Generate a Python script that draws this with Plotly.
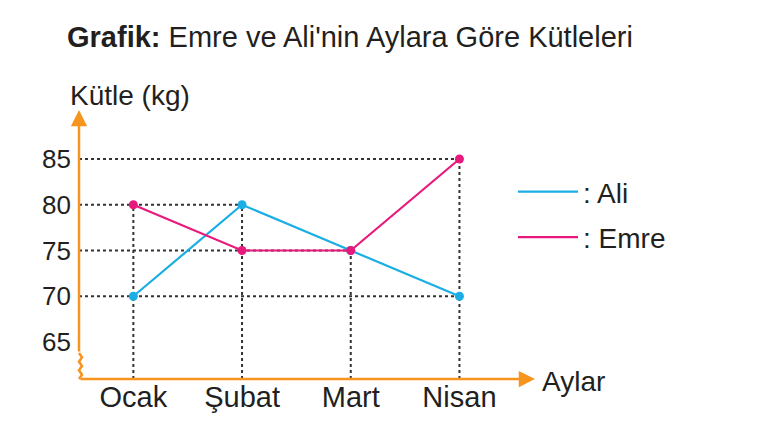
import plotly.graph_objects as go

months = ["Ocak", "Şubat", "Mart", "Nisan"]
ali = [70, 80, 75, 70]
emre = [80, 75, 75, 85]
y_ticks = [65, 70, 75, 80, 85]

title_bold = "Grafik:"
title_rest = " Emre ve Ali'nin Aylara Göre Kütleleri"
y_title = "Kütle (kg)"
x_title = "Aylar"

ORANGE = "#F7941D"
BLUE = "#1AAEE5"
PINK = "#E8197D"
DOT = "#333333"
TXT = "#231F20"
FONT = "Liberation Sans, Arial, sans-serif"

W, H = 763, 432
L, R, T, B = 74, 228, 110, 48
plot_w = W - L - R
plot_h = H - T - B
px_x = 108.7
px_y = 9.15
x_axis_pos = -0.5
x_min = x_axis_pos - 5 / px_x
x_max = x_min + plot_w / px_x
y_axis_val = 65 - 37 / px_y
y_min = y_axis_val - 5 / px_y
y_max = y_min + plot_h / px_y

idx = list(range(len(months)))
fig = go.Figure()

# dotted guide lines derived from data
points = list(zip(idx, ali)) + list(zip(idx, emre))
for v in sorted(set(ali + emre)):
    xr = max(i for i, val in points if val == v)
    fig.add_trace(go.Scatter(x=[x_axis_pos, xr], y=[v, v], mode="lines",
                             line=dict(color=DOT, width=2, dash="dot"),
                             showlegend=False, hoverinfo="skip"))
for i in idx:
    top = max(ali[i], emre[i])
    fig.add_trace(go.Scatter(x=[i, i], y=[y_axis_val, top], mode="lines",
                             line=dict(color=DOT, width=2, dash="dot"),
                             showlegend=False, hoverinfo="skip"))

fig.add_trace(go.Scatter(x=idx, y=ali, mode="lines+markers",
                         line=dict(color=BLUE, width=2.2),
                         marker=dict(color=BLUE, size=9),
                         showlegend=False, cliponaxis=False))
fig.add_trace(go.Scatter(x=idx, y=emre, mode="lines+markers",
                         line=dict(color=PINK, width=2.2),
                         marker=dict(color=PINK, size=9),
                         showlegend=False, cliponaxis=False))
# legend entries
fig.add_trace(go.Scatter(x=[None], y=[None], mode="lines", name=": Ali",
                         line=dict(color=BLUE, width=2.2), legendgroup="a"))
fig.add_trace(go.Scatter(x=[None], y=[None], mode="lines", name=": Emre",
                         line=dict(color=PINK, width=2.2), legendgroup="e"))

# axis: zigzag break + arrows
zz_top = y_axis_val + 26 / px_y
a = 3 / px_x
steps = 6
path = f"M {x_axis_pos} {zz_top}"
for k in range(1, steps + 1):
    yy = zz_top - (zz_top - y_axis_val) * k / steps
    xx = x_axis_pos + (a if k % 2 == 1 else 0)
    if k == steps:
        xx = x_axis_pos
    path += f" L {xx} {yy}"
fig.add_shape(type="path", path=path, xref="x", yref="y",
              line=dict(color=ORANGE, width=2.5))

fig.add_annotation(x=x_axis_pos, y=y_axis_val + (379 - 110) / px_y, xref="x", yref="y",
                   ax=x_axis_pos, ay=zz_top, axref="x", ayref="y", text="",
                   showarrow=True, arrowhead=2, arrowsize=1.3, arrowwidth=2.5,
                   arrowcolor=ORANGE, standoff=0)
fig.add_annotation(x=x_axis_pos + (535 - 79) / px_x, y=y_axis_val, xref="x", yref="y",
                   ax=x_axis_pos, ay=y_axis_val, axref="x", ayref="y", text="",
                   showarrow=True, arrowhead=2, arrowsize=1.3, arrowwidth=2.5,
                   arrowcolor=ORANGE, standoff=0)

fig.add_annotation(x=(68 - L) / plot_w, y=(H - B - 95) / plot_h, xref="paper", yref="paper",
                   text=y_title, showarrow=False, xanchor="left", yanchor="middle",
                   font=dict(size=28, color=TXT, family=FONT))
fig.add_annotation(x=(540 - L) / plot_w, y=(H - B - 381) / plot_h, xref="paper", yref="paper",
                   text=x_title, showarrow=False, xanchor="left", yanchor="middle",
                   font=dict(size=28, color=TXT, family=FONT))

fig.update_layout(
    width=W, height=H,
    margin=dict(l=L, r=R, t=T, b=B),
    paper_bgcolor="white", plot_bgcolor="white",
    font=dict(family=FONT, color=TXT),
    title=dict(text=f"<b>{title_bold}</b>{title_rest}", x=67 / W, xanchor="left",
               xref="container", y=1 - 37 / H, yanchor="middle", yref="container",
               font=dict(size=29, color=TXT, family=FONT)),
    xaxis=dict(range=[x_min, x_max], tickvals=idx, ticktext=months, showgrid=False,
               zeroline=False, showline=False, ticks="", ticklabelstandoff=-7,
               tickfont=dict(size=29, color=TXT, family=FONT)),
    yaxis=dict(range=[y_min, y_max], tickvals=y_ticks, showgrid=False,
               zeroline=False, showline=False, ticks="", ticklabelstandoff=2,
               tickfont=dict(size=26, color=TXT, family=FONT)),
    legend=dict(x=(513 - L) / plot_w, y=(H - B - 167) / plot_h, xanchor="left", yanchor="top",
                font=dict(size=28, color=TXT, family=FONT), bgcolor="rgba(0,0,0,0)",
                tracegroupgap=6, itemwidth=60),
    showlegend=True,
)

fig.write_html("out.html")
